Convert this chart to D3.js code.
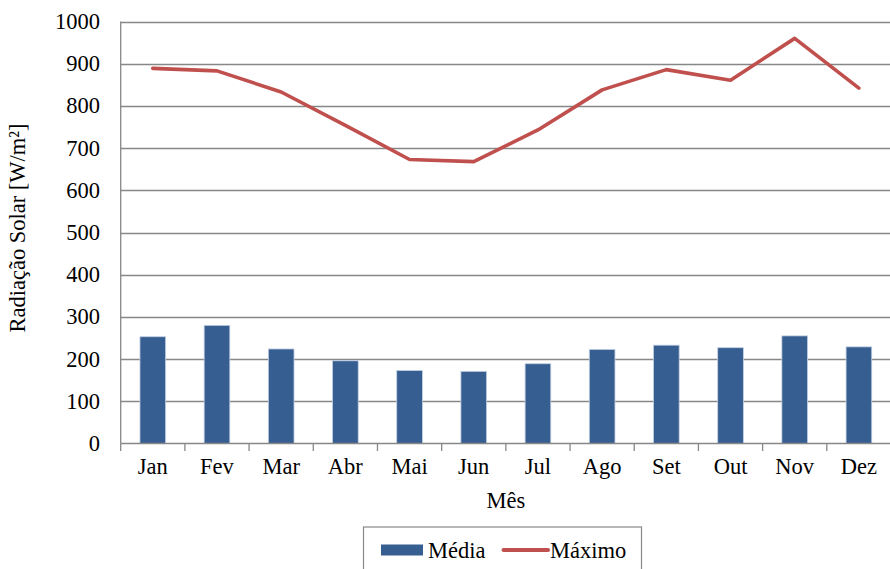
<!DOCTYPE html>
<html>
<head>
<meta charset="utf-8">
<script src="https://cdn.jsdelivr.net/npm/d3@7"></script>
<style>
  html, body { margin: 0; padding: 0; background: #fff; }
  svg { display: block; }
</style>
</head>
<body>
<svg id="chart" width="890" height="569" font-family="'Liberation Serif', 'Times New Roman', Times, serif"></svg>
<script>
const months = ["Jan", "Fev", "Mar", "Abr", "Mai", "Jun", "Jul", "Ago", "Set", "Out", "Nov", "Dez"];
const media = [253, 280, 224, 196, 173, 171, 189, 223, 233, 227, 255, 229];
const maximo = [889, 883, 833, 754, 673, 668, 743, 838, 886, 861, 960, 842];
const yTicks = [0, 100, 200, 300, 400, 500, 600, 700, 800, 900, 1000];
const seriesNames = ["Média", "Máximo"];
const yTitle = "Radiação Solar [W/m²]";
const xTitle = "Mês";

(function () {
const svg = d3.select("#chart");
const fontSize = 22.5;
const FONT = "Liberation Serif";
const pLeft = 120.7, pRight = 891, pTop = 21.5, pBottom = 443.5;

const x = d3.scaleBand().domain(months).range([pLeft, pRight]).padding(0);
const y = d3.scaleLinear().domain([0, 1000]).range([pBottom, pTop]);
const grid = "#878787";

// gridlines
svg.append("g").selectAll("line").data(yTicks.filter(d => d > 0)).join("line")
  .attr("x1", pLeft).attr("x2", pRight)
  .attr("y1", d => Math.round(y(d)) + 0.5).attr("y2", d => Math.round(y(d)) + 0.5)
  .attr("stroke", grid).attr("stroke-width", 1.3);

// y labels
svg.append("g").selectAll("text").data(yTicks).join("text")
  .attr("x", 100).attr("y", d => y(d) + 7.5)
  .attr("text-anchor", "end").attr("font-size", fontSize).attr("font-family", FONT)
  .text(d => d);

// bars
const bw = x.bandwidth();
svg.append("g").selectAll("rect").data(months).join("rect")
  .attr("x", m => x(m) + bw * 0.3)
  .attr("width", bw * 0.4)
  .attr("y", (m, i) => y(media[i]))
  .attr("height", (m, i) => y(0) - y(media[i]))
  .attr("fill", "#375E91")
  .attr("stroke", "#C3D0E3").attr("stroke-width", 0.8);

// axes lines
svg.append("line").attr("x1", pLeft).attr("x2", pLeft).attr("y1", pTop).attr("y2", pBottom)
  .attr("stroke", grid).attr("stroke-width", 1.3);
svg.append("line").attr("x1", pLeft).attr("x2", pRight).attr("y1", pBottom).attr("y2", pBottom)
  .attr("stroke", grid).attr("stroke-width", 1.3);
// x ticks at band boundaries
const tickPos = months.map(m => x(m)).concat([pRight]);
svg.append("g").selectAll("line").data(tickPos).join("line")
  .attr("x1", d => d).attr("x2", d => d)
  .attr("y1", pBottom).attr("y2", pBottom + 7.5)
  .attr("stroke", grid).attr("stroke-width", 1.3);

// x labels
svg.append("g").selectAll("text").data(months).join("text")
  .attr("x", m => x(m) + bw / 2).attr("y", 474)
  .attr("text-anchor", "middle").attr("font-size", fontSize).attr("font-family", FONT)
  .text(m => m);

// line
const line = d3.line()
  .x((d, i) => x(months[i]) + bw / 2)
  .y(d => y(d));
svg.append("path").datum(maximo)
  .attr("d", line)
  .attr("fill", "none").attr("stroke", "#C0504D")
  .attr("stroke-width", 3.6).attr("stroke-linejoin", "round").attr("stroke-linecap", "round");

// titles
svg.append("text").attr("x", (pLeft + pRight) / 2).attr("y", 508)
  .attr("text-anchor", "middle").attr("font-size", fontSize).attr("font-family", FONT).text(xTitle);
svg.append("text")
  .attr("transform", "translate(25,228) rotate(-90)")
  .attr("text-anchor", "middle").attr("font-size", fontSize).attr("font-family", FONT).text(yTitle);

// legend
const lg = svg.append("g");
lg.append("rect").attr("x", 363.5).attr("y", 527).attr("width", 278).attr("height", 60)
  .attr("fill", "#fff").attr("stroke", "#888").attr("stroke-width", 1.2);
lg.append("rect").attr("x", 381).attr("y", 544.5).attr("width", 42).attr("height", 11)
  .attr("fill", "#375E91");
lg.append("text").attr("x", 428).attr("y", 557.5).attr("font-size", fontSize).attr("font-family", FONT).text(seriesNames[0]);
lg.append("line").attr("x1", 503.5).attr("x2", 548).attr("y1", 550).attr("y2", 550)
  .attr("stroke", "#C0504D").attr("stroke-width", 4).attr("stroke-linecap", "round");
lg.append("text").attr("x", 550).attr("y", 557.5).attr("font-size", fontSize).attr("font-family", FONT).text(seriesNames[1]);
})();
</script>
</body>
</html>
